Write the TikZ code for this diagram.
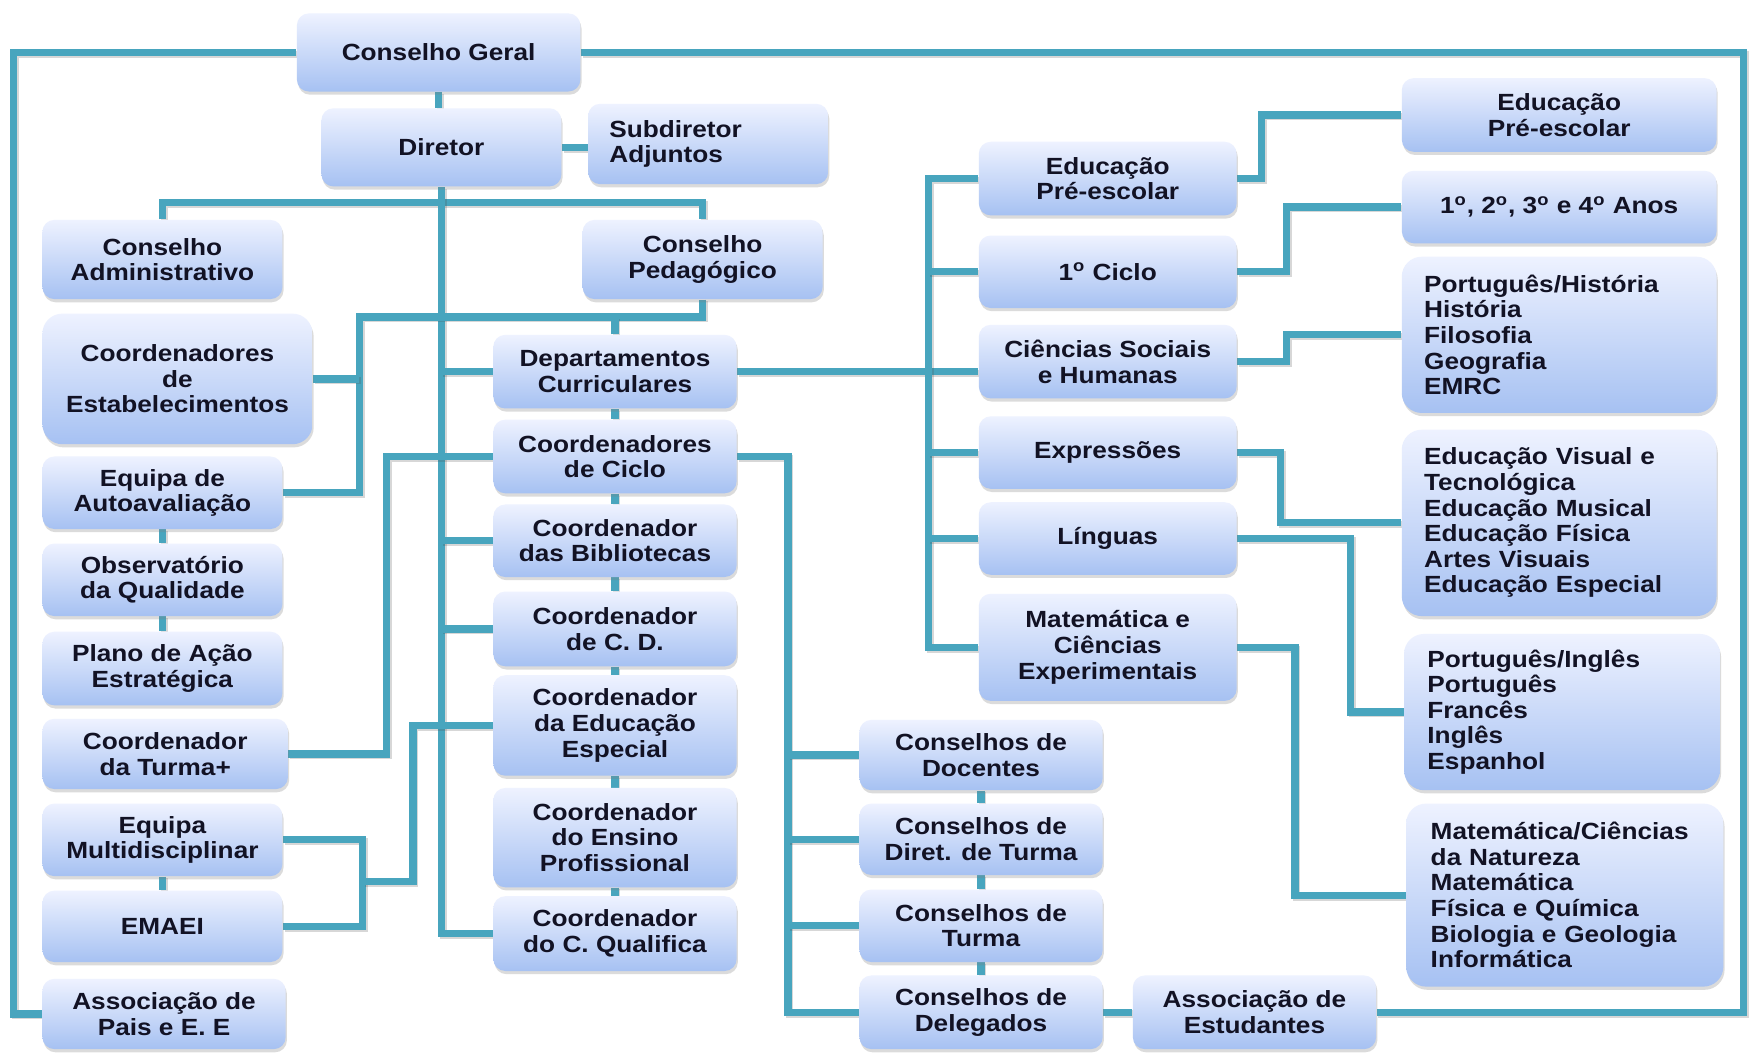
\documentclass[tikz,border=0pt]{standalone}
\usepackage{fontspec}
\newfontfamily\bx[FakeStretch=1.12]{Liberation Sans}
\usetikzlibrary{shadows,backgrounds}
\definecolor{boxtop}{RGB}{238,242,255}
\definecolor{boxbot}{RGB}{166,193,242}
\definecolor{lineteal}{RGB}{72,165,190}
\definecolor{txt}{RGB}{18,18,36}
\def\pxu{0.558pt}
\newcommand\myord{\textsuperscript{o}}
\tikzset{
  box/.style={rounded corners=6pt, top color=boxtop, bottom color=boxbot,
    drop shadow={shadow xshift=0.6pt, shadow yshift=-1.6pt, opacity=0.28},
    text=txt, align=center, inner sep=1pt,
    font=\bx\bfseries\fontsize{11.7}{12.8}\selectfont},
  sz/.style 2 args={minimum width=#1*\pxu, minimum height=#2*\pxu},
  lst/.style={align=left, rounded corners=10pt},
  conn/.style={line width=3.6pt, draw=lineteal,
    preaction={draw=black!70, opacity=0.22, line width=3.6pt,
      transform canvas={shift={(0.9pt,-0.9pt)}}}}
}
\begin{document}
\begin{tikzpicture}[x=0.558pt, y=-0.558pt]
\useasboundingbox (0,0) rectangle (1568,943);
% top
\node[box, sz={254}{70}] (cg) at (393,47) {Conselho Geral};
\node[box, sz={215}{70}] (dir) at (395.5,132) {Diretor};
\node[box, sz={215}{72}, align=left, text width=98.8pt, inner xsep=10.6pt] (sub) at (634.5,129) {Subdiretor\\Adjuntos};
% left column
\node[box, sz={215}{71}] (cadm) at (145.5,232.5) {Conselho\\Administrativo};
\node[box, sz={242}{117}, rounded corners=10pt] (cest) at (159,339.5) {Coordenadores\\de\\Estabelecimentos};
\node[box, sz={215}{65}] (eaut) at (145.5,441.5) {Equipa de\\Autoavaliação};
\node[box, sz={215}{65}] (obs) at (145.5,519.5) {Observatório\\da Qualidade};
\node[box, sz={215}{66}] (plano) at (145.5,599) {Plano de Ação\\Estratégica};
\node[box, sz={220}{63}] (cturma) at (148,675.5) {Coordenador\\da Turma+};
\node[box, sz={215}{65}] (emult) at (145.5,752.5) {Equipa\\Multidisciplinar};
\node[box, sz={215}{64}] (emaei) at (145.5,830) {EMAEI};
\node[box, sz={218}{63}] (apais) at (147,908.5) {Associação de\\Pais e E. E};
% middle column
\node[box, sz={215}{71}] (cped) at (629.5,232.5) {Conselho\\Pedagógico};
\node[box, sz={218}{66}] (dep) at (551,333) {Departamentos\\Curriculares};
\node[box, sz={218}{66}] (cciclo) at (551,409) {Coordenadores\\de Ciclo};
\node[box, sz={218}{65}] (cbib) at (551,484.5) {Coordenador\\das Bibliotecas};
\node[box, sz={218}{67}] (ccd) at (551,563.5) {Coordenador\\de C. D.};
\node[box, sz={218}{90}] (cee) at (551,650) {Coordenador\\da Educação\\Especial};
\node[box, sz={218}{89}] (cep) at (551,750.5) {Coordenador\\do Ensino\\Profissional};
\node[box, sz={218}{67}] (ccq) at (551,836.5) {Coordenador\\do C. Qualifica};
% conselhos
\node[box, sz={218}{63}] (cdoc) at (879,676.5) {Conselhos de\\Docentes};
\node[box, sz={218}{64}] (cdt) at (879,752) {Conselhos de\\Diret. de Turma};
\node[box, sz={218}{65}] (ctur) at (879,829.5) {Conselhos de\\Turma};
\node[box, sz={218}{66}] (cdel) at (879,907) {Conselhos de\\Delegados};
\node[box, sz={218}{66}] (aest) at (1124,907) {Associação de\\Estudantes};
% departments
\node[box, sz={231}{66}] (dpre) at (992.5,160) {Educação\\Pré-escolar};
\node[box, sz={231}{65}] (d1c) at (992.5,243.5) {1\myord{} Ciclo};
\node[box, sz={231}{66}] (dcsh) at (992.5,324) {Ciências Sociais\\e Humanas};
\node[box, sz={231}{65}] (dexp) at (992.5,405.5) {Expressões};
\node[box, sz={231}{65}] (dling) at (992.5,482.5) {Línguas};
\node[box, sz={231}{96}] (dmat) at (992.5,580) {Matemática e\\Ciências\\Experimentais};
% right column
\node[box, sz={282}{66}] (rpre) at (1397,103) {Educação\\Pré-escolar};
\node[box, sz={282}{65}] (r1) at (1397,185.5) {1\myord, 2\myord, 3\myord{} e 4\myord{} Anos};
\node[box, lst, sz={282}{140}, text width=135pt, inner xsep=11.2pt] (rcsh) at (1397,300)
  {Português/História\\História\\Filosofia\\Geografia\\EMRC};
\node[box, lst, sz={282}{167}, text width=135pt, inner xsep=11.2pt] (rexp) at (1397,468.5)
  {Educação Visual e\\Tecnológica\\Educação Musical\\Educação Física\\Artes Visuais\\Educação Especial};
\node[box, lst, sz={283}{140}, text width=134.5pt, inner xsep=11.7pt] (rling) at (1399.5,638)
  {Português/Inglês\\Português\\Francês\\Inglês\\Espanhol};
\node[box, lst, sz={284}{164}, text width=134pt, inner xsep=12.3pt] (rmat) at (1402,802)
  {Matemática/Ciências\\da Natureza\\Matemática\\Física e Química\\Biologia e Geologia\\Informática};
% helper coordinates
\coordinate (fl) at (12,47);
\coordinate (fr) at (1562,47);
\coordinate (pb) at (322,284);
\coordinate (eb) at (325,790);
\coordinate (cb) at (706,409);
\coordinate (db) at (832,333);
\begin{scope}[on background layer]
\fill[white] (0,0) rectangle (1568,943);
% frame
\draw[conn] (cg.west) -- (fl) |- (apais.west);
\draw[conn] (cg.east) -- (fr) |- (aest.east);
% top
\draw[conn] (cg.south) -- (cg.south |- dir.north);
\draw[conn] (dir.east) -- (dir.east -| sub.west);
\draw[conn] (cadm.north) -- ++(0,-15) -| (cped.north);
% trunk
\draw[conn] (dir.south) -- (dir.south |- ccq.west) -- (ccq.west);
\draw[conn] (dir.south |- dep.west) -- (dep.west);
\draw[conn] (dir.south |- cbib.west) -- (cbib.west);
\draw[conn] (dir.south |- ccd.west) -- (ccd.west);
% pedagogico bus
\draw[conn] (cped.south) |- (pb) |- (eaut.east);
\draw[conn] (dep.north) -- (dep.north |- pb);
\draw[conn] (cest.east) -- (cest.east -| pb);
% ciclo to turma+
\draw[conn] (cciclo.west) -- ++(-95,0) |- (cturma.east);
% ed especial to equipa/emaei
\draw[conn] (emult.east) -| (eb) |- (emaei.east);
\draw[conn] (eb) -- ++(45,0) |- (cee.west);
% chains
\draw[conn] (dep.south) -- (cciclo.north);
\draw[conn] (cciclo.south) -- (cbib.north);
\draw[conn] (cbib.south) -- (ccd.north);
\draw[conn] (ccd.south) -- (cee.north);
\draw[conn] (cee.south) -- (cep.north);
\draw[conn] (cep.south) -- (ccq.north);
\draw[conn] (eaut.south) -- (obs.north);
\draw[conn] (obs.south) -- (plano.north);
\draw[conn] (emult.south) -- (emaei.north);
\draw[conn] (cdoc.south) -- (cdt.north);
\draw[conn] (cdt.south) -- (ctur.north);
\draw[conn] (ctur.south) -- (cdel.north);
\draw[conn] (cdel.east) -- (aest.west);
% conselhos bus
\draw[conn] (cciclo.east) -- (cb) |- (cdel.west);
\draw[conn] (cb |- cdoc.west) -- (cdoc.west);
\draw[conn] (cb |- cdt.west) -- (cdt.west);
\draw[conn] (cb |- ctur.west) -- (ctur.west);
% departments bus
\draw[conn] (dep.east) -- (dep.east -| dcsh.west);
\draw[conn] (dpre.west) -- (dpre.west -| db) -- (db |- dmat.west) -- (dmat.west);
\draw[conn] (db |- d1c.west) -- (d1c.west);
\draw[conn] (db |- dexp.west) -- (dexp.west);
\draw[conn] (db |- dling.west) -- (dling.west);
% to right column
\draw[conn] (dpre.east) -- ++(22,0) |- (rpre.west);
\draw[conn] (d1c.east) -- ++(44,0) |- (r1.west);
\draw[conn] (dcsh.east) -- ++(44,0) |- (rcsh.west);
\draw[conn] (dexp.east) -- ++(39,0) |- (rexp.west);
\draw[conn] (dling.east) -- ++(102,0) |- (rling.west);
\draw[conn] (dmat.east) -- ++(52,0) |- (rmat.west);
\end{scope}
\end{tikzpicture}
\end{document}
